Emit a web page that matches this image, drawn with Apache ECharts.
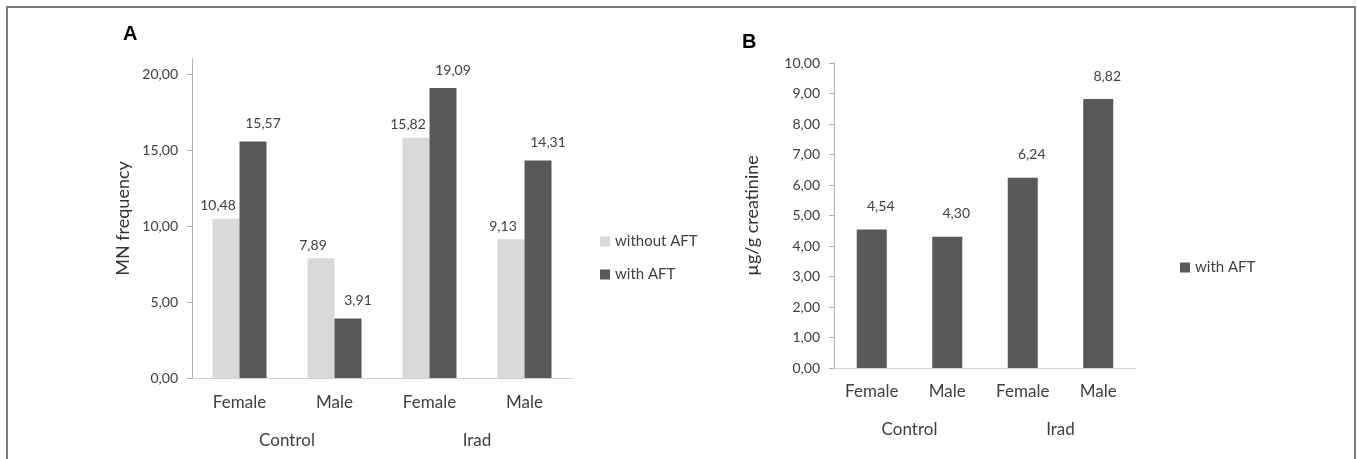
<!DOCTYPE html>
<html><head><meta charset="utf-8">
<script src="https://cdn.jsdelivr.net/npm/echarts@6/dist/echarts.min.js"></script>
<style>
html,body{margin:0;padding:0;background:#fff;}
#frame{position:absolute;left:6px;top:6px;width:1350px;height:480px;border:2px solid #7a7a7a;box-sizing:border-box;}
#c{position:absolute;left:0;top:0;width:1358px;height:459px;}
</style></head>
<body><div id="frame"></div><div id="c"></div>
<script>
const categories = ['Female', 'Male', 'Female', 'Male'];
const groups = ['Control', 'Irad'];
const mnWithoutAFT = [10.48, 7.89, 15.82, 9.13];
const mnWithAFT = [15.57, 3.91, 19.09, 14.31];
const creatinineWithAFT = [4.54, 4.30, 6.24, 8.82];
const mnTicks = [0, 5, 10, 15, 20];
const creatinineTicks = [0, 1, 2, 3, 4, 5, 6, 7, 8, 9, 10];

const FONT = 'Lato';
const TXT = '#404040';
const AX = '#b0b0b0';
const fmt = v => Number(v).toFixed(2).replace('.', ',');

const chart = echarts.init(document.getElementById('c'));

function catAxis(gridIndex, data, margin, show) {
  return {
    type: 'category', gridIndex: gridIndex, data: data, position: 'bottom',
    axisLine: { show: show, lineStyle: { color: '#d0d0d0', width: 1 } },
    axisTick: { show: false },
    axisLabel: { margin: margin, fontFamily: FONT, fontSize: 17, color: TXT, interval: 0 }
  };
}
function valAxis(gridIndex, max, ticks, name, nameGap) {
  return {
    type: 'value', gridIndex: gridIndex, min: 0, max: max,
    name: name, nameLocation: 'middle', nameGap: nameGap, nameRotate: 90,
    nameTextStyle: { fontFamily: FONT, fontSize: 18, color: '#333' },
    splitLine: { show: false },
    axisLine: { show: true, lineStyle: { color: AX, width: 1 } },
    axisTick: { show: true, length: 5, inside: false, customValues: ticks, lineStyle: { color: AX } },
    axisLabel: { margin: 14, fontFamily: FONT, fontSize: 14, color: TXT, customValues: ticks, formatter: fmt }
  };
}

chart.setOption({
  animation: false,
  title: [
    { text: 'A', left: 118, top: 19, textStyle: { fontFamily: 'Liberation Sans', fontWeight: 'bold', fontSize: 20, color: '#000' } },
    { text: 'B', left: 737, top: 27, textStyle: { fontFamily: 'Liberation Sans', fontWeight: 'bold', fontSize: 20, color: '#000' } }
  ],
  legend: [
    { orient: 'vertical', left: 595, top: 229, itemWidth: 10, itemHeight: 10, itemGap: 18, icon: 'rect',
      data: ['without AFT', 'with AFT'], textStyle: { fontFamily: FONT, fontSize: 15, color: TXT } },
    { orient: 'vertical', left: 1175, top: 255, itemWidth: 10, itemHeight: 10, icon: 'rect',
      data: ['with AFT '], textStyle: { fontFamily: FONT, fontSize: 15, color: TXT } }
  ],
  grid: [
    { left: 192, right: 786, top: 59, bottom: 81 },
    { left: 834, right: 222, top: 63, bottom: 91 }
  ],
  xAxis: [
    catAxis(0, categories, 16, true),
    catAxis(0, groups, 54, false),
    catAxis(1, categories, 15, true),
    catAxis(1, groups, 53, false)
  ],
  yAxis: [
    valAxis(0, 21, mnTicks, 'MN frequency', 60),
    valAxis(1, 10, creatinineTicks, 'µg/g creatinine', 73)
  ],
  series: [
    { name: 'without AFT', type: 'bar', xAxisIndex: 0, yAxisIndex: 0, data: mnWithoutAFT,
      barWidth: 27, barGap: '0%', itemStyle: { color: '#d9d9d9' },
      label: { show: true, position: 'top', distance: 6, offset: [-8, 0], formatter: p => fmt(p.value),
        fontFamily: FONT, fontSize: 14, color: TXT } },
    { name: 'with AFT', type: 'bar', xAxisIndex: 0, yAxisIndex: 0, data: mnWithAFT,
      barWidth: 27, barGap: '0%', itemStyle: { color: '#595959' },
      label: { show: true, position: 'top', distance: 11, offset: [10, 0], formatter: p => fmt(p.value),
        fontFamily: FONT, fontSize: 14, color: TXT } },
    { name: 'with AFT ', type: 'bar', xAxisIndex: 2, yAxisIndex: 1, data: creatinineWithAFT,
      barWidth: 30, itemStyle: { color: '#595959' },
      label: { show: true, position: 'top', distance: 16, offset: [9, 0], formatter: p => fmt(p.value),
        fontFamily: FONT, fontSize: 14, color: TXT } }
  ]
});
</script></body></html>
